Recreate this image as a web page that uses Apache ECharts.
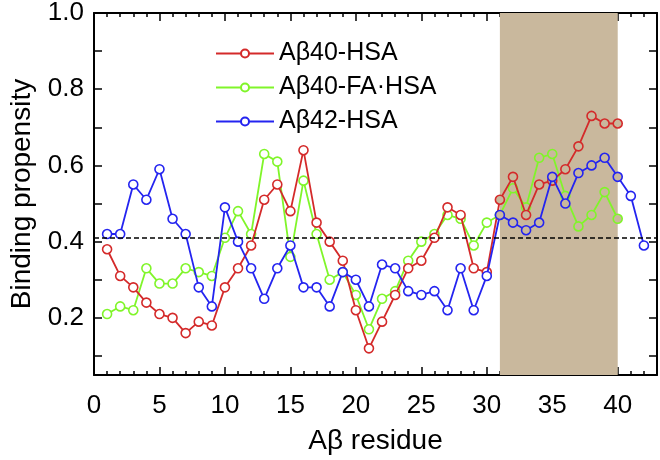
<!DOCTYPE html>
<html><head><meta charset="utf-8">
<script src="https://cdn.jsdelivr.net/npm/echarts@6/dist/echarts.min.js"></script>
<style>html,body{margin:0;padding:0;background:#fff}#c{width:660px;height:460px}</style>
</head><body><div id="c"></div>
<script>
const residues = [1,2,3,4,5,6,7,8,9,10,11,12,13,14,15,16,17,18,19,20,21,22,23,24,25,26,27,28,29,30,31,32,33,34,35,36,37,38,39,40,41,42];
const ab40HSA = [0.38,0.31,0.28,0.24,0.21,0.20,0.16,0.19,0.18,0.28,0.33,0.39,0.51,0.55,0.48,0.64,0.45,0.40,0.35,0.22,0.12,0.19,0.26,0.33,0.35,0.41,0.49,0.47,0.33,0.32,0.51,0.57,0.47,0.55,0.56,0.59,0.65,0.73,0.71,0.71];
const ab40FAHSA = [0.21,0.23,0.22,0.33,0.29,0.29,0.33,0.32,0.31,0.41,0.48,0.42,0.63,0.61,0.36,0.56,0.42,0.30,0.32,0.26,0.17,0.25,0.27,0.35,0.40,0.42,0.47,0.46,0.39,0.45,0.47,0.54,0.49,0.62,0.63,0.52,0.44,0.47,0.53,0.46];
const ab42HSA = [0.42,0.42,0.55,0.51,0.59,0.46,0.42,0.28,0.23,0.49,0.40,0.33,0.25,0.33,0.39,0.28,0.28,0.23,0.32,0.30,0.23,0.34,0.33,0.27,0.26,0.27,0.22,0.33,0.22,0.31,0.47,0.45,0.43,0.45,0.57,0.50,0.58,0.60,0.62,0.57,0.52,0.39];
const seriesNames = ['Aβ40-HSA','Aβ40-FA·HSA','Aβ42-HSA'];
const threshold = 0.405;
const shadeStart = 31, shadeEnd = 40;

const shadeColor = '#C9B89D';
const colors = ['#D42A2A','#80F52A','#2424F0'];
const font = '"Liberation Sans", Arial, sans-serif';
const black = '#000';

function mk(name, color, vals, z){
  return {
    type:'line', name, z, animation:false,
    data: vals.map((v,i)=>{
      const x = residues[i];
      const inShade = x >= shadeStart && x <= shadeEnd;
      return {value:[x,v], itemStyle:{color: inShade ? shadeColor : '#fff'}};
    }),
    symbol:'circle', symbolSize:9,
    lineStyle:{color, width:1.8},
    itemStyle:{color:'#fff', borderColor:color, borderWidth:1.6},
    emphasis:{disabled:true}
  };
}

function xAx(pos, labels){
  return {
    type:'value', min:0, max:43, interval:5, position:pos,
    axisLine:{show:true, onZero:false, lineStyle:{color:black, width:2}},
    axisTick:{show:true, inside:true, length:8, lineStyle:{color:black, width:1.5}},
    minorTick:{show:true, splitNumber:5, length:4, lineStyle:{color:black, width:1.5}},
    splitLine:{show:false},
    axisLabel:{show:labels, fontSize:26, color:black, fontFamily:font, margin:18,
      formatter: v => (v % 5 === 0 ? String(v) : '')},
    name: labels ? 'Aβ residue' : '', nameLocation:'middle', nameGap:52,
    nameTextStyle:{fontSize:28, color:black, fontFamily:font}
  };
}
function yAx(pos, labels){
  return {
    type:'value', min:0.05, max:1.0, splitNumber:5, position:pos,
    axisLine:{show:true, onZero:false, lineStyle:{color:black, width:2}},
    axisTick:{show:true, inside:true, length:8, lineStyle:{color:black, width:1.5}},
    minorTick:{show:true, splitNumber:2, length:8, lineStyle:{color:black, width:1.5}},
    splitLine:{show:false},
    axisLabel:{show:labels, fontSize:26, color:black, fontFamily:font, margin:10,
      formatter: v => (Math.abs(v*5 - Math.round(v*5)) < 1e-6 ? v.toFixed(1) : '')},
    name: labels ? 'Binding propensity' : '', nameLocation:'middle', nameGap:58,
    nameTextStyle:{fontSize:28, color:black, fontFamily:font}
  };
}

const chart = echarts.init(document.getElementById('c'), null, {renderer:'canvas'});
chart.setOption({
  animation:false,
  backgroundColor:'#fff',
  grid:{left:88, right:3, top:13, bottom:83, containLabel:false},
  xAxis:[xAx('bottom', true), xAx('top', false)],
  yAxis:[yAx('left', true), yAx('right', false)],
  legend:{
    data: seriesNames, orient:'vertical', left:210, top:36,
    itemWidth:58, itemHeight:10, itemGap:9,
    textStyle:{fontSize:25, color:black, fontFamily:font},
    selectedMode:false
  },
  series:[
    {type:'line', name:'_bg', data:[], z:0, silent:true,
      markArea:{silent:true, itemStyle:{color:shadeColor}, data:[[{xAxis:shadeStart},{xAxis:shadeEnd}]]},
      markLine:{silent:true, symbol:'none', label:{show:false},
        lineStyle:{color:black, type:[5,3], width:1.6}, data:[{yAxis:threshold}]}
    },
    mk(seriesNames[0], colors[0], ab40HSA, 3),
    mk(seriesNames[1], colors[1], ab40FAHSA, 2),
    mk(seriesNames[2], colors[2], ab42HSA, 4)
  ]
});
</script></body></html>
